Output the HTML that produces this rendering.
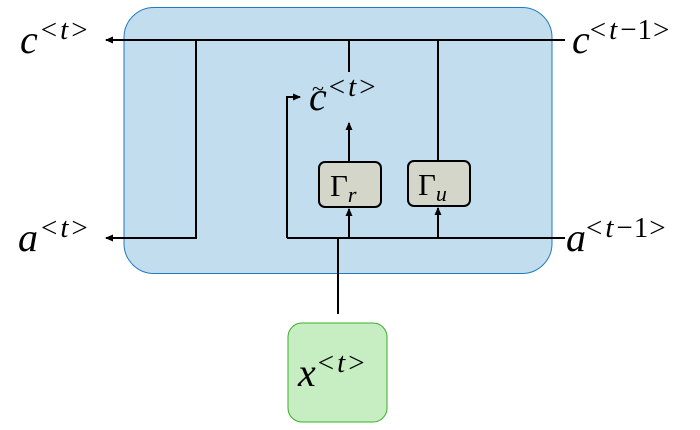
<!DOCTYPE html>
<html><head><meta charset="utf-8"><style>
html,body{margin:0;padding:0;background:#fff;}
svg text{font-family:"Liberation Serif",serif;font-style:italic;fill:#000;}
.u{font-style:normal;}
.s{font-size:29px;letter-spacing:3px;}
</style></head><body>
<svg width="700" height="425" viewBox="0 0 700 425" xmlns="http://www.w3.org/2000/svg">
<defs><marker id="ah" markerWidth="8" markerHeight="8" refX="7" refY="4" orient="auto" markerUnits="userSpaceOnUse"><path d="M0,0.5 L8,4 L0,7.5 z" fill="#000"/></marker></defs>
<rect x="124" y="7.5" width="428" height="266" rx="30" fill="#c1ddee" stroke="#1f7bc1" stroke-width="1"/>
<rect x="288" y="323" width="99" height="99" rx="14" fill="#c6eec2" stroke="#3aaf2a" stroke-width="1"/>
<g stroke="#000" stroke-width="2" fill="none">
<line x1="565" y1="40" x2="106" y2="40" marker-end="url(#ah)"/>
<polyline points="196,40 196,238 106,238" marker-end="url(#ah)"/>
<line x1="349" y1="40" x2="349" y2="72"/>
<line x1="438" y1="40" x2="438" y2="162"/>
<line x1="349" y1="162" x2="349" y2="123" marker-end="url(#ah)"/>
<line x1="565" y1="238" x2="287" y2="238"/>
<polyline points="287,238 287,97 300,97" marker-end="url(#ah)"/>
<line x1="349" y1="238" x2="349" y2="209" marker-end="url(#ah)"/>
<line x1="438" y1="238" x2="438" y2="208" marker-end="url(#ah)"/>
<line x1="338" y1="314" x2="338" y2="238"/>
</g>
<rect x="319" y="162" width="62" height="45" rx="6" fill="#d3d6c8" stroke="#000" stroke-width="2"/>
<rect x="408" y="161" width="62" height="45" rx="6" fill="#d3d6c8" stroke="#000" stroke-width="2"/>
<text x="330" y="196" font-size="31" class="u">Γ<tspan font-size="22" dy="6" font-style="italic">r</tspan></text>
<text x="418" y="195" font-size="31" class="u">Γ<tspan font-size="22" dy="6" font-style="italic">u</tspan></text>
<text x="20" y="53" font-size="40">c<tspan class="s u" dy="-14" dx="3">&lt;</tspan><tspan class="s">t</tspan><tspan class="s u">&gt;</tspan></text>
<text x="18" y="251" font-size="40">a<tspan class="s u" dy="-14" dx="3">&lt;</tspan><tspan class="s">t</tspan><tspan class="s u">&gt;</tspan></text>
<text x="572" y="53" font-size="40">c<tspan class="s u" dy="-14">&lt;</tspan><tspan class="s">t</tspan><tspan class="s u" style="letter-spacing:1px">−1&gt;</tspan></text>
<text x="566" y="251" font-size="40">a<tspan class="s u" dy="-14">&lt;</tspan><tspan class="s">t</tspan><tspan class="s u" style="letter-spacing:1px">−1&gt;</tspan></text>
<text x="309" y="110" font-size="40">c<tspan class="s u" dy="-14" dx="2">&lt;</tspan><tspan class="s">t</tspan><tspan class="s u">&gt;</tspan></text>
<text x="312" y="96" font-size="22" class="u">~</text>
<text x="298" y="386" font-size="40">x<tspan class="s u" dy="-14" dx="2">&lt;</tspan><tspan class="s">t</tspan><tspan class="s u">&gt;</tspan></text>
</svg>
</body></html>
